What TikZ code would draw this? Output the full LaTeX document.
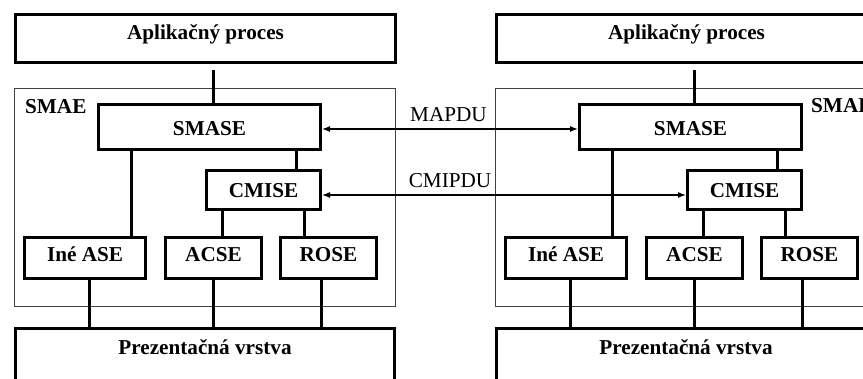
\documentclass[tikz,border=0pt]{standalone}
\usepackage{fontspec}
\setmainfont{Liberation Serif}
\usetikzlibrary{arrows.meta}
\newcommand\smaepanel[2]{%
\begin{scope}[xshift=#2]
\node[region, minimum width=381pt, minimum height=218pt] (#1smae) at (205,197.5) {};
\node[box, minimum width=380pt, minimum height=48pt, text depth=11pt] (#1app) at (205.5,38.5) {Aplikačný proces};
\node[box, minimum width=222pt, minimum height=45pt, text height=17pt] (#1smase) at (209.5,127) {SMASE};
\node[box, minimum width=114pt, minimum height=39pt] (#1cmise) at (263.5,190.5) {CMISE};
\node[box, minimum width=121pt, minimum height=41pt, text depth=7.4pt] (#1ine) at (85,258.5) {Iné ASE};
\node[box, minimum width=96pt, minimum height=41pt, text depth=7.4pt] (#1acse) at (213.5,258.5) {ACSE};
\node[box, minimum width=96pt, minimum height=41pt, text depth=7.4pt] (#1rose) at (328.5,258.5) {ROSE};
\node[box, minimum width=379pt, minimum height=55pt, text depth=16.4pt] (#1prez) at (205,356) {Prezentačná vrstva};
\draw[conn, shorten <=6pt] ([xshift=7.5pt]#1app.south) -- ([xshift=3.5pt]#1smase.north);
\draw[conn] ([xshift=-78.5pt]#1smase.south) -- ([xshift=46pt]#1ine.north);
\draw[conn] ([xshift=86.5pt]#1smase.south) -- ([xshift=32.5pt]#1cmise.north);
\draw[conn] ([xshift=-41.5pt]#1cmise.south) -- ([xshift=8.5pt]#1acse.north);
\draw[conn] ([xshift=40.5pt]#1cmise.south) -- ([xshift=-24.5pt]#1rose.north);
\draw[conn] ([xshift=4pt]#1ine.south) -- ([xshift=-116pt]#1prez.north);
\draw[conn] ([xshift=-0.5pt]#1acse.south) -- ([xshift=8pt]#1prez.north);
\draw[conn] ([xshift=-7.5pt]#1rose.south) -- ([xshift=116pt]#1prez.north);
\end{scope}}
\begin{document}
\begin{tikzpicture}[x=1pt, y=-1pt,
  box/.style={draw, rectangle, line width=3pt, inner sep=0pt, fill=white,
    font=\bfseries\fontsize{21.2}{24}\selectfont, text height=14pt, text depth=0pt},
  region/.style={draw=black!75, rectangle, line width=1pt, inner sep=0pt},
  conn/.style={line width=3pt},
  pdu/.style={line width=1.3pt, {Latex[length=8pt,width=6pt]}-{Latex[length=8pt,width=6pt]}},
  lbl/.style={inner sep=0pt, font=\bfseries\fontsize{21.2}{24}\selectfont, text height=14pt, text depth=0pt},
  pdulbl/.style={inner sep=0pt, font=\fontsize{21.2}{24}\selectfont, text height=14pt, text depth=0pt}]
\useasboundingbox (0,0) rectangle (863,379);
\clip (0,0) rectangle (863,379);
\smaepanel{L}{0pt}
\smaepanel{R}{481pt}
\node[lbl, anchor=west] (smaeL) at (25,106.3) {SMAE};
\node[lbl, anchor=west] (smaeR) at (811,105.8) {SMAE};
\draw[pdu] ([yshift=-2pt]Lsmase.east) -- ([yshift=-2pt]Rsmase.west);
\draw[pdu] ([yshift=-4.5pt]Lcmise.east) -- ([yshift=-4.5pt]Rcmise.west);
\node[pdulbl] (mapdu) at (448.5,114.5) {MAPDU};
\node[pdulbl] (cmipdu) at (450,181) {CMIPDU};
\end{tikzpicture}
\end{document}
